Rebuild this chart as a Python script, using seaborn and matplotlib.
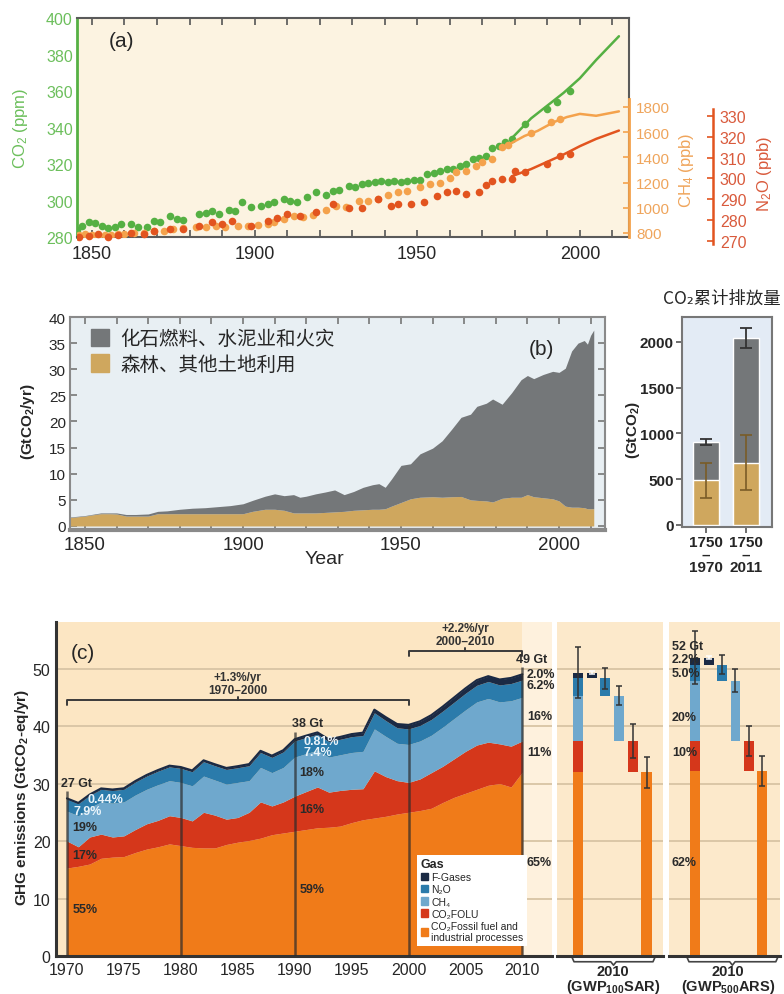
import matplotlib
matplotlib.use("Agg")
import matplotlib.pyplot as plt
from matplotlib.patches import Patch
from matplotlib.font_manager import FontProperties
from matplotlib.ticker import MultipleLocator
import numpy as np
import seaborn as sns

# ---------------------------------------------------------------- data ----
# (a) atmospheric concentrations: ice-core points and instrumental lines
co2_dot_years = [1845.5, 1847, 1849, 1851, 1853, 1855, 1857, 1859, 1862, 1864,
                 1867, 1869, 1871, 1874, 1876, 1878, 1883, 1885, 1887, 1889,
                 1892, 1894, 1896, 1899, 1902, 1904, 1906, 1909, 1911, 1913,
                 1916, 1919, 1922, 1924, 1926, 1929, 1931, 1933, 1935, 1937,
                 1939, 1941, 1943, 1945, 1947, 1949, 1951, 1953, 1955, 1957,
                 1959, 1961, 1963, 1965, 1967, 1969, 1971, 1973, 1975, 1977,
                 1979, 1983, 1990, 1993, 1997]
co2_dot_ppm = [284, 286, 288, 287.5, 286, 285, 285.5, 287, 287, 285.5,
               285.5, 289, 288, 291.5, 290, 289.5, 292.5, 293, 294, 292.5,
               295, 294.5, 299, 296.5, 297, 298, 299, 301, 300, 299,
               302, 304.5, 303, 305, 306, 308, 307.5, 309, 309.5, 310,
               310.5, 310, 310.5, 310, 310.5, 311, 311.5, 314.5, 315, 316,
               317, 317.5, 319, 320, 322.7, 323.5, 324.4, 329, 330, 332,
               333.7, 342, 350, 354, 360]
co2_line_years = [1979, 1985, 1990, 1995, 2000, 2005, 2012]
co2_line_ppm = [334, 345, 352, 359, 367, 377, 390]

ch4_dot_years = [1846, 1848, 1850, 1852, 1854, 1856, 1858, 1860, 1863, 1866,
                 1869, 1872, 1875, 1878, 1882, 1885, 1888, 1891, 1895, 1898,
                 1901, 1904, 1906, 1909, 1912, 1915, 1918, 1922, 1925, 1928,
                 1932, 1935, 1938, 1941, 1944, 1947, 1951, 1954, 1957, 1960,
                 1962, 1965, 1968, 1970, 1973, 1976, 1978, 1985, 1991, 1994]
ch4_dot_ppb = [785, 790, 780, 778, 782, 780, 790, 795, 800, 800,
               815, 815, 830, 840, 845, 850, 852, 850, 855, 858,
               860, 870, 890, 910, 935, 930, 945, 985, 1015, 1010,
               1050, 1055, 1070, 1100, 1125, 1130, 1165, 1190, 1200, 1240,
               1285, 1290, 1330, 1365, 1390, 1480, 1500, 1590, 1680, 1705]
ch4_line_years = [1978, 1983, 1987, 1992, 1996, 2000, 2005, 2012]
ch4_line_ppb = [1500, 1570, 1610, 1680, 1720, 1745, 1730, 1765]

n2o_dot_years = [1846, 1849, 1852, 1855, 1858, 1862, 1866, 1869, 1874, 1878,
                 1883, 1887, 1890, 1893, 1899, 1904, 1907, 1910, 1914, 1919,
                 1924, 1929, 1933, 1938, 1942, 1944, 1948, 1952, 1956, 1959,
                 1962, 1965, 1969, 1971, 1973, 1976, 1979, 1980, 1983, 1990,
                 1994, 1997]
n2o_dot_ppb = [272, 272.5, 273.3, 272, 273, 274, 273.5, 274.7, 275.7, 275.7,
               277, 279, 278, 279.5, 277, 279.5, 281, 283, 282, 284,
               287.7, 286, 286, 290, 286.7, 287.7, 287.7, 288.7, 291.5, 293.5,
               294, 292.5, 293.5, 297, 298.8, 299.7, 299.7, 303.6, 303, 307,
               310.8, 311.7]
n2o_line_years = [1979, 1985, 1990, 1995, 2000, 2005, 2012]
n2o_line_ppb = [301, 304.5, 308, 311.5, 315.5, 319, 323]

# (b) annual anthropogenic CO2 emissions (GtCO2/yr)
b_years = [1845, 1850, 1852, 1855, 1858, 1860, 1863, 1866, 1870, 1873,
           1876, 1880, 1884, 1888, 1892, 1896, 1900, 1903, 1905, 1907,
           1910, 1913, 1916, 1918, 1920, 1923, 1926, 1929, 1932, 1935,
           1938, 1941, 1943, 1945, 1947, 1950, 1953, 1956, 1960, 1963,
           1966, 1969, 1972, 1974, 1977, 1979, 1982, 1985, 1988, 1990,
           1992, 1995, 1998, 2000, 2002, 2004, 2006, 2008, 2009, 2010,
           2011]
land_use = [1.6, 1.9, 2.1, 2.35, 2.35, 2.3, 1.9, 1.9, 1.9, 2.35,
            2.35, 2.35, 2.35, 2.35, 2.35, 2.35, 2.35, 2.8, 3.0, 3.2,
            3.2, 3.0, 2.5, 2.5, 2.5, 2.5, 2.6, 2.7, 2.8, 3.0,
            3.1, 3.2, 3.2, 3.3, 3.8, 4.5, 5.2, 5.5, 5.6, 5.5,
            5.6, 5.65, 5.0, 4.9, 4.8, 4.6, 5.3, 5.5, 5.5, 6.0,
            5.6, 5.4, 5.2, 4.8, 3.8, 3.6, 3.6, 3.5, 3.3, 3.3,
            3.3]
fossil_cement = [0.1, 0.1, 0.1, 0.15, 0.15, 0.2, 0.3, 0.3, 0.4, 0.45,
                 0.55, 0.85, 1.05, 1.15, 1.35, 1.55, 1.9, 2.1, 2.3, 2.5,
                 2.95, 2.8, 3.5, 3.0, 3.2, 3.65, 3.9, 4.2, 3.2, 3.6,
                 4.3, 4.7, 4.9, 4.1, 5.2, 7.1, 6.7, 8.3, 9.3, 10.8,
                 12.9, 15.15, 16.4, 18.0, 18.7, 19.7, 18.0, 20.0, 22.5, 22.8,
                 22.6, 23.6, 24.4, 24.6, 26.4, 29.9, 31.4, 32.0, 31.5, 33.2,
                 34.2]
b_labels = ["化石燃料、水泥业和火灾", "森林、其他土地利用"]

# (b, right) cumulative CO2 emissions (GtCO2)
cum_periods = ["1750\n–\n1970", "1750\n–\n2011"]
cum_total = [910, 2040]
cum_total_err = [35, 110]
cum_land = [490, 680]
cum_land_err = [190, 300]

# (c) GHG emissions by gas (GtCO2-eq/yr)
c_years = list(range(1970, 2011))
c_fossil = [15.3, 15.6, 16.0, 17.0, 17.2, 17.3, 18.0, 18.6, 19.0, 19.5,
            19.2, 18.9, 18.8, 18.8, 19.4, 19.8, 20.1, 20.5, 21.1, 21.4,
            21.7, 22.0, 22.3, 22.4, 22.6, 23.2, 23.7, 24.0, 24.3, 24.7,
            25.0, 25.3, 25.7, 26.7, 27.6, 28.3, 29.0, 29.7, 30.0, 29.4, 32.0]
c_folu = [4.7, 3.4, 4.7, 4.2, 3.5, 3.6, 4.0, 4.4, 4.6, 4.9,
          4.9, 4.6, 6.2, 5.7, 4.4, 4.3, 4.9, 6.3, 5.0, 5.4,
          6.1, 6.6, 7.1, 6.1, 6.2, 5.8, 5.4, 8.2, 6.9, 5.8,
          5.2, 5.5, 6.2, 6.3, 6.7, 7.3, 7.7, 7.5, 6.9, 7.1, 5.4]
c_ch4 = [5.2, 5.4, 5.1, 5.6, 5.9, 5.9, 6.0, 6.0, 6.2, 6.1,
         6.1, 6.1, 6.3, 6.1, 6.1, 6.1, 5.5, 6.0, 5.8, 6.0,
         6.8, 6.6, 6.4, 6.1, 6.2, 6.4, 6.5, 7.3, 7.0, 6.5,
         6.6, 6.6, 6.5, 6.8, 7.0, 7.2, 7.5, 7.6, 7.3, 7.9, 7.6]
c_n2o = [2.1, 2.1, 2.15, 2.2, 2.2, 2.2, 2.25, 2.3, 2.35, 2.4,
         2.45, 2.45, 2.5, 2.5, 2.55, 2.55, 2.6, 2.6, 2.65, 2.7,
         2.8, 2.8, 2.75, 2.7, 2.7, 2.75, 2.75, 2.8, 2.75, 2.7,
         2.7, 2.7, 2.75, 2.8, 2.85, 2.9, 2.9, 2.95, 2.95, 3.0, 3.0]
c_fgas = [0.12, 0.13, 0.14, 0.15, 0.16, 0.17, 0.18, 0.19, 0.20, 0.21,
          0.22, 0.23, 0.24, 0.25, 0.26, 0.27, 0.28, 0.29, 0.30, 0.30,
          0.31, 0.33, 0.35, 0.38, 0.41, 0.45, 0.50, 0.55, 0.60, 0.65,
          0.70, 0.72, 0.75, 0.78, 0.82, 0.86, 0.90, 0.93, 0.95, 0.97, 1.00]
gas_names = ["CO₂Fossil fuel and\nindustrial processes", "CO₂FOLU", "CH₄", "N₂O", "F-Gases"]

# 2010 totals under two metrics: fossil, FOLU, CH4, N2O, F-gases
gwp100_sar = [32.0, 5.4, 7.9, 3.0, 1.0]
gwp100_sar_err = [2.7, 2.9, 1.7, 1.8, 0.3]
gwp100_sar_total_err = 4.5
gwp500_ar = [32.2, 5.2, 10.5, 2.8, 1.2]
gwp500_ar_err = [2.6, 2.6, 2.0, 1.6, 0.3]
gwp500_ar_total_err = 4.6

# ------------------------------------------------------------- styling ----
sns.set_theme(style="white")
plt.rcParams["font.family"] = ["Liberation Sans", "DejaVu Sans"]
plt.rcParams["mathtext.default"] = "regular"
CJK = ["Noto Sans CJK SC", "DejaVu Sans"]
NARROW = ["Liberation Sans", "DejaVu Sans"]

CO2_C, CO2_TXT = "#55B043", "#6CBF5C"
CH4_C, CH4_TXT = "#F4A24C", "#EFA55C"
N2O_C, N2O_TXT = "#E2541F", "#D95A3C"
GRAY, TAN = "#747779", "#CFA75E"
GAS_COLORS = ["#F07B19", "#D5371B", "#6FA8CD", "#2B7BAB", "#1B2A44"]

W, H = 784, 995
fig = plt.figure(figsize=(W / 100, H / 100), dpi=100)


def box(x0, y0, x1, y1):
    return [x0 / W, 1 - y1 / H, (x1 - x0) / W, (y1 - y0) / H]


# ------------------------------------------------------------ panel (a) ---
ax_a = fig.add_axes(box(77, 19, 629, 238))
ax_a.set_facecolor("#FCF3E1")
sns.scatterplot(x=co2_dot_years, y=co2_dot_ppm, ax=ax_a, color=CO2_C, s=30,
                linewidth=0, legend=False, zorder=4)
sns.lineplot(x=co2_line_years, y=co2_line_ppm, ax=ax_a, color=CO2_C, lw=1.8, zorder=4)
ax_a.set_xlim(1845.4, 2015.1)
ax_a.set_ylim(280, 400)
ax_a.set_yticks(range(280, 401, 20))
ax_a.xaxis.set_major_locator(MultipleLocator(50))
ax_a.xaxis.set_minor_locator(MultipleLocator(10))
ax_a.tick_params(axis="x", which="both", direction="in", top=True, bottom=True,
                 length=5, width=1.2, color="#555555", labelsize=13, pad=6)
ax_a.tick_params(axis="y", labelcolor=CO2_TXT, labelsize=11.5, length=0, pad=3)
for s in ["top", "bottom", "right"]:
    ax_a.spines[s].set_color("#5a5a5a")
    ax_a.spines[s].set_linewidth(1.5)
ax_a.spines["left"].set_color(CO2_C)
ax_a.spines["left"].set_linewidth(2)
ax_a.set_xlabel("")
ax_a.set_ylabel("")
ax_a.text(0.058, 0.895, "(a)", transform=ax_a.transAxes, fontsize=15, va="center")

ax_m = ax_a.twinx()
sns.scatterplot(x=ch4_dot_years, y=ch4_dot_ppb, ax=ax_m, color=CH4_C, s=30,
                linewidth=0, legend=False, zorder=3)
sns.lineplot(x=ch4_line_years, y=ch4_line_ppb, ax=ax_m, color=CH4_C, lw=1.8, zorder=3)
ax_m.set_ylim(768, 2506)
ax_m.set_yticks(range(800, 1801, 200))
for s in ["top", "bottom", "left"]:
    ax_m.spines[s].set_visible(False)
ax_m.spines["right"].set_bounds(768, 1863)
ax_m.spines["right"].set_color(CH4_C)
ax_m.spines["right"].set_linewidth(2)
ax_m.tick_params(axis="y", direction="in", color=CH4_C, labelcolor=CH4_TXT,
                 labelsize=11, length=4, width=1.2, pad=5)
ax_m.set_ylabel("")
ax_m.set_xlim(1845.4, 2015.1)

ax_n = fig.add_axes(box(77, 19, 629, 246))
ax_n.set_facecolor("none")
sns.scatterplot(x=n2o_dot_years, y=n2o_dot_ppb, ax=ax_n, color=N2O_C, s=30,
                linewidth=0, legend=False, zorder=3)
sns.lineplot(x=n2o_line_years, y=n2o_line_ppb, ax=ax_n, color=N2O_C, lw=1.8, zorder=3)
ax_n.set_xlim(1845.4, 2015.1)
ax_n.set_ylim(268.0, 377.1)
ax_n.xaxis.set_visible(False)
ax_n.yaxis.tick_right()
ax_n.set_yticks(range(270, 331, 10))
for s in ["top", "bottom", "left"]:
    ax_n.spines[s].set_visible(False)
ax_n.spines["right"].set_position(("axes", (713 - 77) / 552))
ax_n.spines["right"].set_bounds(268.5, 333.4)
ax_n.spines["right"].set_color(N2O_C)
ax_n.spines["right"].set_linewidth(1.8)
ax_n.tick_params(axis="y", direction="in", color=N2O_C, labelcolor=N2O_TXT,
                 labelsize=11.5, length=4, width=1.2, pad=5)
ax_n.set_ylabel("")

fig.text(20 / W, 1 - 128 / H, "CO$_2$ (ppm)", rotation=90, color=CO2_TXT,
         fontsize=12, ha="center", va="center")
fig.text(686 / W, 1 - 170 / H, "CH$_4$ (ppb)", rotation=90, color=CH4_TXT,
         fontsize=12, ha="center", va="center")
fig.text(764 / W, 1 - 174 / H, "N$_2$O (ppb)", rotation=90, color=N2O_TXT,
         fontsize=12, ha="center", va="center")

# ------------------------------------------------------------ panel (b) ---
ax_b = fig.add_axes(box(70, 318, 605, 531))
ax_b.set_facecolor("#E8EFF3")
ax_b.stackplot(b_years, land_use, fossil_cement, colors=[TAN, GRAY], lw=0)
ax_b.set_xlim(1845.25, 2014.56)
ax_b.set_ylim(-0.77, 40)
ax_b.set_yticks(range(0, 41, 5))
ax_b.xaxis.set_major_locator(MultipleLocator(50))
ax_b.xaxis.set_minor_locator(MultipleLocator(10))
ax_b.tick_params(axis="x", which="both", direction="in", top=True, bottom=True,
                 length=5, width=1.2, color="#777777", labelsize=13.5, pad=4)
ax_b.tick_params(axis="y", direction="in", left=True, right=True, length=5,
                 width=1.2, color="#777777", labelsize=11, pad=3)
for s in ax_b.spines.values():
    s.set_color("#8a8a8a")
    s.set_linewidth(1.5)
ax_b.spines["bottom"].set_linewidth(3)
ax_b.text(0.858, 0.85, "(b)", transform=ax_b.transAxes, fontsize=15,
          ha="left", va="center")
ax_b.legend(handles=[Patch(color=GRAY), Patch(color=TAN)], labels=b_labels,
            loc="upper left", bbox_to_anchor=(0.025, 0.985), frameon=False,
            prop=FontProperties(family=CJK, size=14), handlelength=0.9,
            handleheight=1.0, handletextpad=0.6, labelspacing=0.25,
            borderaxespad=0)
fig.text(324 / W, 1 - 560 / H, "Year", fontsize=14, ha="center", va="center")
fig.text(28 / W, 1 - 422 / H, "(GtCO$_2$/yr)", rotation=90, fontsize=11,
         weight="bold", ha="center", va="center")

ax_bb = fig.add_axes(box(682, 318, 772, 528))
ax_bb.set_facecolor("#E3EBF5")
sns.barplot(x=cum_periods, y=cum_total, ax=ax_bb, color=GRAY, width=0.65,
            saturation=1, errorbar=None)
sns.barplot(x=cum_periods, y=cum_land, ax=ax_bb, color=TAN, width=0.65,
            saturation=1, errorbar=None)
ax_bb.errorbar(range(len(cum_total)), cum_total, yerr=cum_total_err, fmt="none",
               ecolor="#333333", elinewidth=1.3, capsize=4, capthick=1.3)
ax_bb.errorbar(range(len(cum_land)), cum_land, yerr=cum_land_err, fmt="none",
               ecolor="#7A5C27", elinewidth=1.2, capsize=4, capthick=1.2)
ax_bb.set_xlim(-0.6, 1.65)
ax_bb.set_ylim(-22, 2273)
ax_bb.set_yticks([0, 500, 1000, 1500, 2000])
ax_bb.set_xlabel("")
ax_bb.set_ylabel("")
ax_bb.tick_params(axis="both", direction="out", left=True, bottom=True, length=4,
                  width=1.2, color="#555555", labelsize=11, pad=2)
for lab in ax_bb.get_xticklabels() + ax_bb.get_yticklabels():
    lab.set_fontweight("bold")
for lab in ax_bb.get_xticklabels():
    lab.set_linespacing(0.85)
for s in ax_bb.spines.values():
    s.set_color("#777777")
    s.set_linewidth(1.5)
fig.text(781 / W, 1 - 299 / H, "CO₂累计排放量", family=CJK, fontsize=12.5,
         ha="right", va="center")
fig.text(633 / W, 1 - 430 / H, "(GtCO$_2$)", rotation=90, fontsize=11,
         weight="bold", ha="center", va="center")

# ------------------------------------------------------------ panel (c) ---
YMAX = 58.1
ax_c = fig.add_axes(box(56, 623, 552, 957))
ax_c.set_facecolor("#FCE6C3")
ax_c.set_xlim(1969.04, 2012.6)
ax_c.set_ylim(0, YMAX)
ax_c.axvspan(2010, 2012.6, color="#FEF1DD", lw=0, zorder=0)
for g in range(10, 51, 10):
    ax_c.axhline(g, color="#D8C4A4", lw=1.3, zorder=0.5)
ax_c.stackplot(c_years, c_fossil, c_folu, c_ch4, c_n2o, c_fgas,
               colors=GAS_COLORS, lw=0, zorder=2)
c_total = np.sum([c_fossil, c_folu, c_ch4, c_n2o, c_fgas], axis=0)
sns.lineplot(x=c_years, y=c_total, ax=ax_c, color=GAS_COLORS[4], lw=1.5, zorder=3)
for yr, ext in [(1970, 1.3), (1980, 0.0), (1990, 1.3), (2000, 0.0), (2010, 1.3)]:
    top = c_total[c_years.index(yr)] + ext
    ax_c.vlines(yr, 0, top, color="#2b2b2b", alpha=0.7, lw=1.8, zorder=4)

nb = dict(family=NARROW, weight="bold", fontsize=9, zorder=6)


def bracket(ax, x0, x1, y, txt1, txt2):
    xm = (x0 + x1) / 2
    ax.plot([x0, x0, x1, x1], [y - 0.8, y, y, y - 0.8], color="#3a3a3a", lw=1.4, zorder=5)
    ax.plot([xm, xm], [y, y + 0.6], color="#3a3a3a", lw=1.4, zorder=5)
    ax.text(xm, y + 4.0, txt1, ha="center", va="center", color="#333333",
            family=NARROW, weight="bold", fontsize=8.5)
    ax.text(xm, y + 1.8, txt2, ha="center", va="center", color="#333333",
            family=NARROW, weight="bold", fontsize=8.5)


bracket(ax_c, 1970, 2000, 44.5, "+1.3%/yr", "1970–2000")
bracket(ax_c, 2000, 2010, 53.0, "+2.2%/yr", "2000–2010")

DARK, LIGHT = "#2a2a2a", "#EAF4FA"
labels_c = [
    (1969.5, 30.1, "27 Gt", DARK), (1971.8, 27.3, "0.44%", LIGHT),
    (1970.6, 25.2, "7.9%", LIGHT), (1970.5, 22.4, "19%", DARK),
    (1970.5, 17.6, "17%", DARK), (1970.5, 8.2, "55%", DARK),
    (1989.8, 40.5, "38 Gt", DARK), (1990.8, 37.4, "0.81%", LIGHT),
    (1990.8, 35.5, "7.4%", LIGHT), (1990.4, 32.0, "18%", DARK),
    (1990.4, 25.6, "16%", DARK), (1990.4, 11.7, "59%", DARK),
    (2009.4, 51.7, "49 Gt", DARK), (2010.4, 49.0, "2.0%", DARK),
    (2010.4, 47.1, "6.2%", DARK), (2010.4, 41.7, "16%", DARK),
    (2010.4, 35.5, "11%", DARK), (2010.4, 16.3, "65%", DARK),
]
for x, y, t, c in labels_c:
    ax_c.text(x, y, t, ha="left", va="center", color=c, **nb)
ax_c.text(0.03, 0.91, "(c)", transform=ax_c.transAxes, fontsize=15, va="center")

ax_c.set_xticks(range(1970, 2011, 5))
ax_c.set_yticks(range(0, 51, 10))
ax_c.tick_params(axis="both", length=0, labelsize=11.5, pad=4)
for s in ["top", "right"]:
    ax_c.spines[s].set_visible(False)
for s in ["left", "bottom"]:
    ax_c.spines[s].set_color("#333333")
    ax_c.spines[s].set_linewidth(2.2)
ax_c.set_xlabel("")
ax_c.set_ylabel("")
fig.text(22 / W, 1 - 797 / H, "GHG emissions (GtCO$_2$-eq/yr)", rotation=90,
         fontsize=11, weight="bold", ha="center", va="center")

handles = [Patch(color=GAS_COLORS[i]) for i in (4, 3, 2, 1, 0)]
names = [gas_names[i] for i in (4, 3, 2, 1, 0)]
leg = ax_c.legend(handles=handles, labels=names, title="Gas", loc="lower left",
                  bbox_to_anchor=(0.728, 0.03), prop=FontProperties(family=NARROW, size=7.5),
                  title_fontproperties=FontProperties(family=["Liberation Sans"], weight="bold", size=9),
                  alignment="left", frameon=True, facecolor="white", edgecolor="none",
                  fancybox=False, framealpha=1, borderpad=0.35, labelspacing=0.2,
                  handlelength=0.7, handleheight=0.7, handletextpad=0.3, borderaxespad=0)
leg.set_zorder(7)


def gwp_panel(px, comps, errs, total_err, xlim, brace, label, notes):
    ax = fig.add_axes(box(*px))
    ax.set_facecolor("#FCE9CB")
    ax.set_xlim(*xlim)
    ax.set_ylim(0, YMAX)
    for g in range(10, 51, 10):
        ax.axhline(g, color="#D8C4A4", lw=1.3, zorder=0.5)
    cum = np.cumsum(comps)
    bottoms = cum - np.array(comps)
    w = 0.74
    for i, v in enumerate(comps):
        ax.bar(0, v, bottom=bottoms[i], width=w, color=GAS_COLORS[i], lw=0, zorder=2)
        ax.bar(5 - i, v, bottom=bottoms[i], width=w, color=GAS_COLORS[i], lw=0, zorder=2)
        ec = "white" if i == 4 else "#333333"
        ax.errorbar(5 - i, cum[i], yerr=errs[i], fmt="none", ecolor=ec,
                    elinewidth=1.1, capsize=2.5, capthick=1.1, zorder=3)
    ax.errorbar(0, cum[-1], yerr=total_err, fmt="none", ecolor="#333333",
                elinewidth=1.1, capsize=2.5, capthick=1.1, zorder=3)
    for s in ["top", "right", "left"]:
        ax.spines[s].set_visible(False)
    ax.spines["bottom"].set_color("#333333")
    ax.spines["bottom"].set_linewidth(2.2)
    ax.set_xticks([])
    ax.set_yticks([])
    xl, xr = brace
    xm = (xl + xr) / 2
    ax.plot([xl, xl + 0.15, xm - 0.2, xm, xm + 0.2, xr - 0.15, xr],
            [-0.2, -1.0, -1.0, -1.6, -1.0, -1.0, -0.2],
            color="#444444", lw=1.2, clip_on=False)
    for x, y, t in notes:
        ax.text(x, y, t, ha="left", va="center", color=DARK, **nb)
    fig.text(label[0] / W, 1 - 965 / H, label[1], ha="center", va="top",
             fontsize=10.5, weight="bold", linespacing=0.9)
    return ax


gwp_panel((557, 623, 663, 957), gwp100_sar, gwp100_sar_err, gwp100_sar_total_err,
          (-1.53, 6.2), (-0.44, 5.62), (613, "2010\n(GWP$_{100}$SAR)"), [])
gwp_panel((669, 623, 780, 957), gwp500_ar, gwp500_ar_err, gwp500_ar_total_err,
          (-1.93, 6.3), (-0.6, 6.14), (728, "2010\n(GWP$_{500}$ARS)"),
          [(-1.71, 53.9, "52 Gt"), (-1.71, 51.7, "2.2%"), (-1.71, 49.3, "5.0%"),
           (-1.71, 41.6, "20%"), (-1.71, 35.5, "10%"), (-1.71, 16.3, "62%")])

fig.savefig("out.png", dpi=100, facecolor="white")
